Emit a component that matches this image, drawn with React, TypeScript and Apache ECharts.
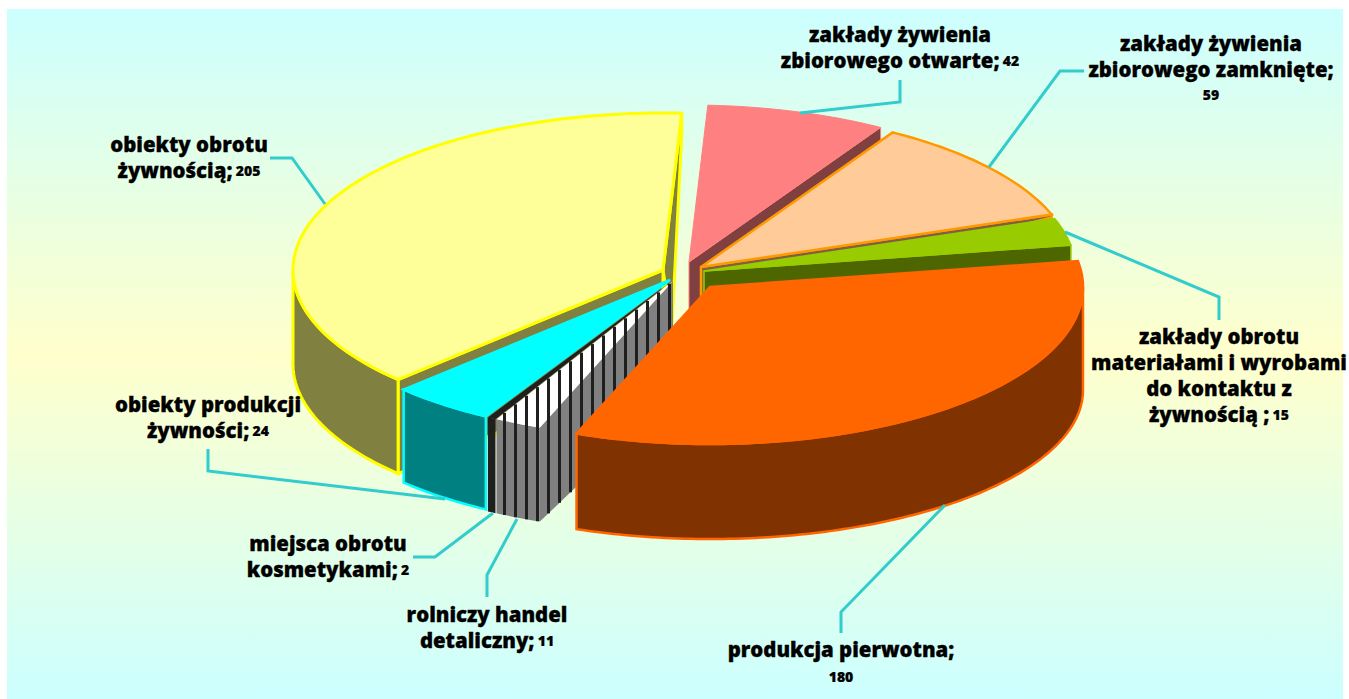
import React, { useEffect, useRef } from "react";
import * as echarts from "echarts";

const categories = [
  "zakłady żywienia zbiorowego otwarte",
  "zakłady żywienia zbiorowego zamknięte",
  "zakłady obrotu materiałami i wyrobami do kontaktu z żywnością",
  "produkcja pierwotna",
  "rolniczy handel detaliczny",
  "miejsca obrotu kosmetykami",
  "obiekty produkcji żywności",
  "obiekty obrotu żywnością",
];
const values = [42, 59, 15, 180, 11, 2, 24, 205];
const labelLines = [
  ["zakłady żywienia", "zbiorowego otwarte;"],
  ["zakłady żywienia", "zbiorowego zamknięte;", ""],
  ["zakłady obrotu", "materiałami i wyrobami", "do kontaktu z", "żywnością ;"],
  ["produkcja pierwotna;", ""],
  ["rolniczy handel", "detaliczny;"],
  ["miejsca obrotu", "kosmetykami;"],
  ["obiekty produkcji", "żywności;"],
  ["obiekty obrotu", "żywnością;"],
];
const paintOrder = [7, 0, 1, 2, 6, 5, 4, 3];

const FIRST_ANGLE = 2.9;
const RX = 372;
const RY = 157;

type Face = { outer: number; apex: number; dx?: number };
type Geom = {
  cx: number; cy: number; rx?: number;
  top: string; wall: string; stroke: string; lw: number;
  d0: number; d1: number;
  startFace?: Face; endFace?: Face; stripes?: boolean;
};
const geom: Geom[] = [
  { cx: 689, cy: 262, top: "#FF8080", wall: "#804040", stroke: "#FF8080", lw: 1, d0: 90, d1: 0, endFace: { outer: 14, apex: 100 } },
  { cx: 701, cy: 267, top: "#FFCC99", wall: "#806040", stroke: "#FF9900", lw: 2.5, d0: 90, d1: 0, endFace: { outer: 3, apex: 40 } },
  { cx: 704, cy: 271, top: "#99CC00", wall: "#4D6600", stroke: "#99CC00", lw: 1.5, d0: 90, d1: 0, endFace: { outer: 20, apex: 30 } },
  { cx: 710, cy: 287, rx: 373, top: "#FF6600", wall: "#803300", stroke: "#FF6600", lw: 2.5, d0: 103, d1: -8 },
  { cx: 673, cy: 281, top: "#FFFFFF", wall: "#808080", stroke: "none", lw: 0, d0: 94, d1: 0, startFace: { outer: 94, apex: 113 }, stripes: true },
  { cx: 672, cy: 281, top: "#1F1F1F", wall: "#1F1F1F", stroke: "none", lw: 0, d0: 94, d1: 0 },
  { cx: 670, cy: 280, top: "#00FFFF", wall: "#008080", stroke: "#00FFFF", lw: 2.5, d0: 93, d1: 0 },
  { cx: 663, cy: 270, rx: 370, top: "#FFFF99", wall: "#808040", stroke: "#FFFF00", lw: 3, d0: 94, d1: 0, startFace: { outer: 94, apex: 94 }, endFace: { outer: 22, apex: 55, dx: 9 } },
];
const leaders: number[][][] = [
  [[800, 113], [900, 102], [900, 80]],
  [[989, 167], [1060, 71], [1084, 71]],
  [[1065, 232], [1219, 297], [1219, 320]],
  [[945, 505], [841, 612], [841, 633]],
  [[517, 519], [487, 575], [487, 597]],
  [[493, 513], [435, 557], [413, 557]],
  [[445, 499], [208, 471], [208, 449]],
  [[325, 204], [292, 158], [270, 158]],
];
const labelPos: { x: number; ys: number[]; valueLine: number }[] = [
  { x: 900, ys: [34, 60], valueLine: 1 },
  { x: 1211, ys: [43, 69, 94], valueLine: 2 },
  { x: 1219, ys: [336, 362, 388, 414], valueLine: 3 },
  { x: 841, ys: [649, 676], valueLine: 1 },
  { x: 487, ys: [614, 640], valueLine: 1 },
  { x: 328, ys: [543, 569], valueLine: 1 },
  { x: 208, ys: [404, 430], valueLine: 1 },
  { x: 189, ys: [144, 170], valueLine: 1 },
];

const total = values.reduce((a, b) => a + b, 0);
const sliceAngles = (i: number) => {
  const before = values.slice(0, i).reduce((a, b) => a + b, 0);
  return [FIRST_ANGLE + (before / total) * 360, FIRST_ANGLE + ((before + values[i]) / total) * 360];
};

const rad = (d: number) => (d * Math.PI) / 180;

function renderSlice(_params: any, api: any) {
  const i = api.value(0) as number;
  const g = geom[i];
  const rx = g.rx ?? RX;
  const [s, e] = sliceAngles(i);
  const topPt = (a: number) => [g.cx + Math.sin(rad(a)) * rx, g.cy - Math.cos(rad(a)) * RY];
  const depth = (a: number) => g.d0 + g.d1 * -Math.cos(rad(a));
  const botPt = (a: number) => {
    const p = topPt(a);
    return [p[0], p[1] + depth(a)];
  };
  const arc = (from: number, to: number, fn: (a: number) => number[]) => {
    const n = Math.max(2, Math.ceil(Math.abs(to - from)));
    const pts: number[][] = [];
    for (let k = 0; k <= n; k++) pts.push(fn(from + ((to - from) * k) / n));
    return pts;
  };
  const style = { fill: g.wall, stroke: g.stroke, lineWidth: g.lw, lineJoin: "miter" };
  const children: any[] = [];
  const face = (a: number, f: Face) => {
    const o = topPt(a);
    return [
      [g.cx, g.cy],
      o,
      [o[0], o[1] + f.outer],
      [g.cx + (f.dx ?? 0), g.cy + f.apex],
    ];
  };
  if (g.endFace) children.push({ type: "polygon", shape: { points: face(e, g.endFace) }, style });
  if (g.startFace) children.push({ type: "polygon", shape: { points: face(s, g.startFace) }, style });
  const w0 = Math.max(90, s);
  const w1 = Math.min(270, e);
  if (w1 > w0) {
    const wallPts = [...arc(w0, w1, topPt), ...arc(w1, w0, botPt)];
    children.push({ type: "polygon", shape: { points: wallPts }, style });
  }
  children.push({
    type: "polygon",
    shape: { points: [[g.cx, g.cy], ...arc(s, e, topPt)] },
    style: { fill: g.top, stroke: g.stroke, lineWidth: g.lw, lineJoin: "miter" },
  });
  if (g.stripes && g.startFace) {
    const outline = [
      [g.cx, g.cy],
      topPt(e),
      ...arc(e, s, botPt),
      [g.cx, g.cy + g.startFace.apex],
    ];
    for (let x = topPt(e)[0] + 8; x < g.cx + 1; x += 11) {
      const ys: number[] = [];
      outline.forEach((p, k) => {
        const q = outline[(k + 1) % outline.length];
        if ((p[0] - x) * (q[0] - x) <= 0 && p[0] !== q[0]) {
          ys.push(p[1] + ((q[1] - p[1]) * (x - p[0])) / (q[0] - p[0]));
        }
      });
      if (ys.length >= 2) {
        children.push({
          type: "line",
          shape: { x1: x, y1: Math.min(...ys), x2: x, y2: Math.max(...ys) },
          style: { stroke: "#1F1F1F", lineWidth: 3 },
        });
      }
    }
  }
  return { type: "group", children };
}

const FONT = "'Open Sans', Lato, sans-serif";

function renderLabel(_params: any, api: any) {
  const i = api.value(0) as number;
  const pos = labelPos[i];
  const children: any[] = [
    {
      type: "polyline",
      shape: { points: leaders[i] },
      style: { fill: "none", stroke: "#33CCCC", lineWidth: 3 },
    },
  ];
  labelLines[i].forEach((line, k) => {
    const withValue = k === pos.valueLine;
    const text = withValue
      ? (line ? `{t|${line}} ` : "") + `{v|${values[i]}}`
      : `{t|${line}}`;
    children.push({
      type: "text",
      x: pos.x,
      y: pos.ys[k],
      style: {
        text,
        align: "center",
        verticalAlign: "middle",
        rich: {
          t: { fontFamily: FONT, fontWeight: 800, fontSize: 20.4, lineHeight: 22, fill: "#000000", stroke: "#000000", lineWidth: 0.3 },
          v: { fontFamily: FONT, fontWeight: 800, fontSize: 14, lineHeight: 16, fill: "#000000", stroke: "#000000", lineWidth: 0.2 },
        },
      },
    });
  });
  return { type: "group", children };
}

export default function App() {
  const ref = useRef<HTMLDivElement>(null);
  useEffect(() => {
    const chart = echarts.init(ref.current!, undefined, { renderer: "svg" });
    const rows = paintOrder.map((i) => ({ name: categories[i], value: [i, values[i]] }));
    chart.setOption({
      animation: false,
      graphic: [
        {
          type: "rect",
          z: -10,
          silent: true,
          shape: { x: 7, y: 9, width: 1336, height: 690 },
          style: {
            fill: new echarts.graphic.LinearGradient(0, 0, 0, 1, [
              { offset: 0, color: "#CCFFFF" },
              { offset: 0.5, color: "#FFFFCC" },
              { offset: 1, color: "#CCFFFF" },
            ]),
          },
        },
      ],
      series: [
        { type: "custom", coordinateSystem: "none", silent: true, z: 2, renderItem: renderSlice, data: rows },
        { type: "custom", coordinateSystem: "none", silent: true, z: 3, renderItem: renderLabel, data: rows },
      ],
    });
    return () => chart.dispose();
  }, []);
  return (
    <div
      ref={ref}
      style={{ position: "fixed", left: 0, top: 0, width: 1349, height: 699, background: "#FFFFFF", overflow: "hidden" }}
    />
  );
}
